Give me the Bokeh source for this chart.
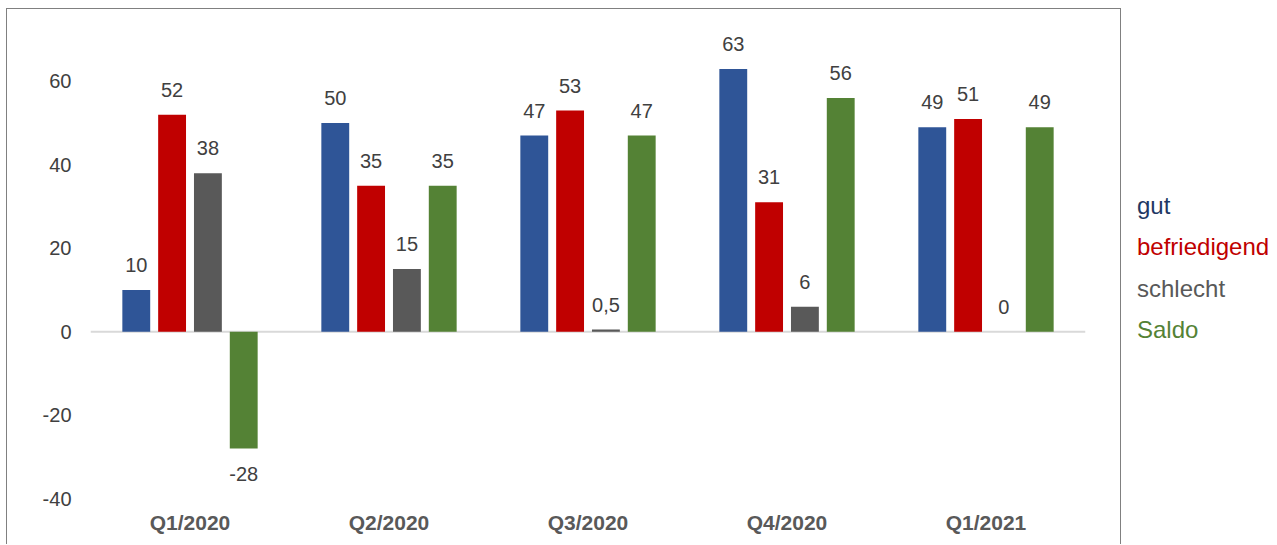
from bokeh.plotting import figure
from bokeh.layouts import row
from bokeh.models import (ColumnDataSource, FactorRange, Range1d, Span, Legend, LegendItem,
                          FixedTicker)
from bokeh.transform import dodge
from bokeh.embed import file_html
from bokeh.resources import INLINE
from bokeh.core.properties import value

# ---- data ----
quarters = ["Q1/2020", "Q2/2020", "Q3/2020", "Q4/2020", "Q1/2021"]
series_names = ["gut", "befriedigend", "schlecht", "Saldo"]
gut = [10, 50, 47, 63, 49]
befriedigend = [52, 35, 53, 31, 51]
schlecht = [38, 15, 0.5, 6, 0]
saldo = [-28, 35, 47, 56, 49]
y_ticks = [-40, -20, 0, 20, 40, 60]

bar_colors = ["#2F5597", "#C00000", "#595959", "#548235"]
legend_colors = ["#1F3864", "#C00000", "#595959", "#548235"]
offsets = [-0.27, -0.09, 0.09, 0.27]
FONT = "Liberation Sans"
BORDER = "1px solid #808080"


def fmt(v):
    return ("%g" % v).replace(".", ",")


data = {"q": quarters}
for name, vals in zip(series_names, [gut, befriedigend, schlecht, saldo]):
    data[name] = vals
    data[name + "_lbl"] = [fmt(v) for v in vals]
    data[name + "_off"] = [-25 if v >= 0 else 26 for v in vals]
src = ColumnDataSource(data)

p = figure(x_range=FactorRange(*quarters, range_padding=0),
           y_range=Range1d(-40, 74.6),
           width=1115, height=536,
           min_border_left=83, min_border_right=37,
           min_border_top=11, min_border_bottom=47,
           output_backend="svg", toolbar_location=None,
           background_fill_color="white", border_fill_color="white",
           margin=(8, 0, 0, 6),
           styles={"border-left": BORDER, "border-top": BORDER, "border-right": BORDER})
p.outline_line_color = None
p.xgrid.visible = False
p.ygrid.visible = False

zero = Span(location=0, dimension="width", line_color="#D9D9D9", line_width=2, level="underlay")
p.add_layout(zero)

for name, col, off in zip(series_names, bar_colors, offsets):
    p.vbar(x=dodge("q", off, range=p.x_range), top=name, width=0.14,
           source=src, fill_color=col, line_color=None)
    p.text(x=dodge("q", off, range=p.x_range), y=name, text=name + "_lbl",
           y_offset=name + "_off", source=src,
           text_align="center", text_baseline="alphabetic",
           text_font=value(FONT), text_font_size="20px", text_color="#404040")

# axes
p.yaxis.ticker = FixedTicker(ticks=y_ticks)
p.yaxis.major_label_overrides = {t: str(t) for t in y_ticks}
p.yaxis.axis_line_color = None
p.yaxis.major_tick_line_color = None
p.yaxis.minor_tick_line_color = None
p.yaxis.major_label_text_font = FONT
p.yaxis.major_label_text_font_size = "20px"
p.yaxis.major_label_text_color = "#404040"
p.yaxis.major_label_standoff = 13

p.xaxis.axis_line_color = None
p.xaxis.major_tick_line_color = None
p.xaxis.major_label_text_font = FONT
p.xaxis.major_label_text_font_size = "21px"
p.xaxis.major_label_text_font_style = "bold"
p.xaxis.major_label_text_color = "#595959"
p.xaxis.major_label_standoff = 6

# ---- legend panel to the right of the bordered chart ----
side = figure(width=154, height=545, x_range=Range1d(0, 1), y_range=Range1d(0, 1),
              min_border=0, min_border_left=0, min_border_right=0,
              min_border_top=0, min_border_bottom=0,
              x_axis_type=None, y_axis_type=None,
              output_backend="svg", toolbar_location=None,
              background_fill_color="white", border_fill_color="white")
side.outline_line_color = None
side.xgrid.visible = False
side.ygrid.visible = False

legend_centers = [205, 246, 288, 329]
for name, col, yc in zip(series_names, legend_colors, legend_centers):
    r = side.vbar(x=[], top=[], width=0.1, fill_color=col, line_color=None)
    lg = Legend(items=[LegendItem(label=name, renderers=[r])],
                location=(16, 545 - yc - 62),
                glyph_width=0, glyph_height=28, label_height=28, label_standoff=0,
                padding=0, margin=0, spacing=0,
                border_line_color=None, background_fill_alpha=0,
                label_text_font=FONT, label_text_font_size="24px",
                label_text_color=col, label_text_baseline="middle",
                click_policy="none")
    side.add_layout(lg)

layout = row(p, side, spacing=0)
open("out.html", "w").write(file_html(layout, INLINE))
